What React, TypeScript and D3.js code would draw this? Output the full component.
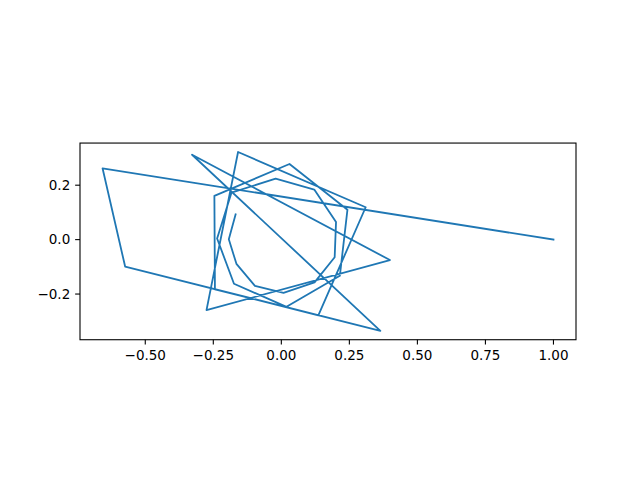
import React from "react";
import * as d3 from "d3";

const xs: number[] = [
  1.0, -0.657, -0.574, 0.364, -0.328, 0.399, -0.275, -0.159, 0.31, 0.136,
  -0.244, -0.246, 0.03, 0.243, 0.215, 0.019, -0.174, -0.236, -0.183, -0.021,
  0.121, 0.201, 0.196, 0.122, 0.008, -0.097, -0.165, -0.193, -0.168,
];
const ys: number[] = [
  0.0, 0.262, -0.099, -0.335, 0.312, -0.075, -0.259, 0.322, 0.119, -0.278,
  -0.183, 0.161, 0.278, 0.11, -0.133, -0.247, -0.162, 0.004, 0.173, 0.224,
  0.184, 0.065, -0.065, -0.157, -0.196, -0.17, -0.089, 0.001, 0.093,
];
const xTicks: number[] = [-0.5, -0.25, 0, 0.25, 0.5, 0.75, 1.0];
const yTicks: number[] = [-0.2, 0.0, 0.2];

const W = 640;
const H = 478;

function fmt(v: number, d: number): string {
  const s = Math.abs(v).toFixed(d);
  return (v < -1e-9 ? "\u2212" : "") + s;
}

export default function App() {
  const xmin = d3.min(xs)!, xmax = d3.max(xs)!;
  const ymin = d3.min(ys)!, ymax = d3.max(ys)!;
  const xm = (xmax - xmin) * 0.05;
  const ym = (ymax - ymin) * 0.05;
  const x0 = xmin - xm, x1 = xmax + xm;
  const y0 = ymin - ym, y1 = ymax + ym;

  const left = 80, right = 576;
  const k = (right - left) / (x1 - x0);
  const ph = (y1 - y0) * k;
  const cy = H * (1 - 0.11) - (H * 0.77) / 2;
  const top = cy - ph / 2;
  const bottom = cy + ph / 2;

  const x = d3.scaleLinear().domain([x0, x1]).range([left, right]);
  const y = d3.scaleLinear().domain([y0, y1]).range([bottom, top]);

  const pts: [number, number][] = xs.map((v, i) => [v, ys[i]]);
  const line = d3
    .line<[number, number]>()
    .x((d) => x(d[0]))
    .y((d) => y(d[1]));

  const tickLen = 4.86;
  const fs = 13.5;
  const font = "'DejaVu Sans', sans-serif";

  return (
    <svg
      width={W}
      height={H}
      style={{ position: "absolute", left: 0, top: 0, background: "#fff" }}
    >
      <rect x={0} y={0} width={W} height={H} fill="#fff" />
      <path
        d={line(pts) || ""}
        fill="none"
        stroke="#1f77b4"
        strokeWidth={1.8}
        strokeLinejoin="round"
        strokeLinecap="square"
      />
      <rect
        x={left}
        y={top}
        width={right - left}
        height={bottom - top}
        fill="none"
        stroke="#000"
        strokeWidth={1.1}
      />
      {xTicks.map((t) => (
        <g key={"x" + t}>
          <line
            x1={x(t)}
            x2={x(t)}
            y1={bottom}
            y2={bottom + tickLen}
            stroke="#000"
            strokeWidth={1.1}
          />
          <text
            x={x(t)}
            y={bottom + tickLen + 4.9}
            dy="0.76em"
            textAnchor="middle"
            fontFamily={font}
            fontSize={fs}
            fill="#000"
          >
            {fmt(t, 2)}
          </text>
        </g>
      ))}
      {yTicks.map((t) => (
        <g key={"y" + t}>
          <line
            x1={left - tickLen}
            x2={left}
            y1={y(t)}
            y2={y(t)}
            stroke="#000"
            strokeWidth={1.1}
          />
          <text
            x={left - tickLen - 4.9}
            y={y(t)}
            dy="0.35em"
            textAnchor="end"
            fontFamily={font}
            fontSize={fs}
            fill="#000"
          >
            {fmt(t, 1)}
          </text>
        </g>
      ))}
    </svg>
  );
}
